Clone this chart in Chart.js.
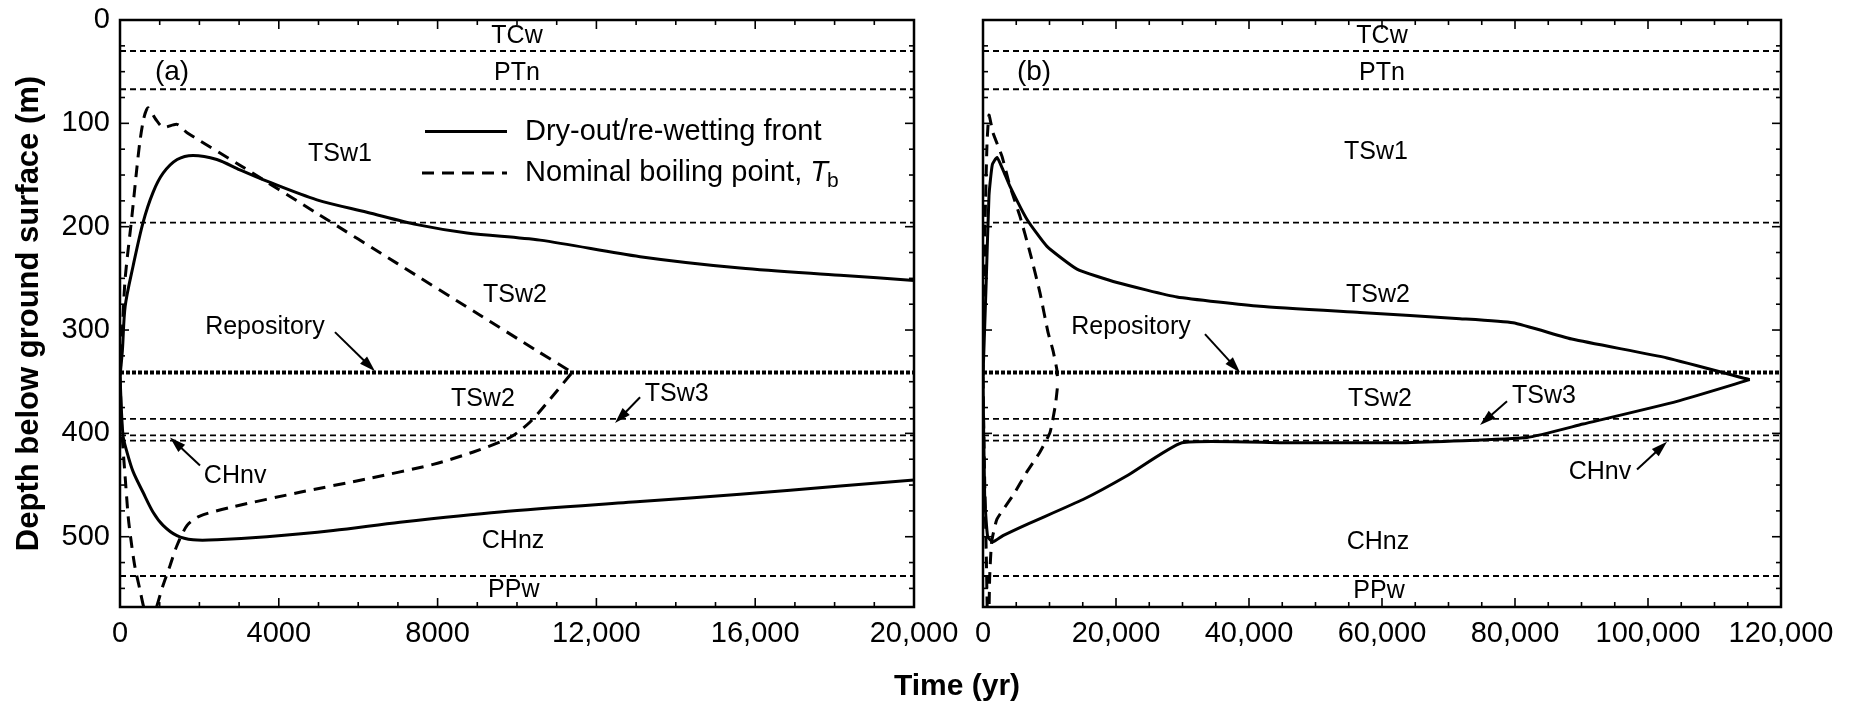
<!DOCTYPE html>
<html>
<head>
<meta charset="utf-8">
<script src="https://cdn.jsdelivr.net/npm/chart.js@4.4.1/dist/chart.umd.min.js"></script>
<style>
  html, body { margin: 0; padding: 0; background: #fff; }
  #wrap { position: relative; width: 1856px; height: 705px; }
  #wrap canvas { position: absolute; top: 0; }
  #chartA { left: 0; }
  #chartB { left: 960px; }
</style>
</head>
<body>
<div id="wrap">
  <canvas id="chartA" width="1856" height="705"></canvas>
  <canvas id="chartB" width="896" height="705"></canvas>
</div>
<script>
const FONT = '"Liberation Sans", Arial, Helvetica, sans-serif';

// depth axis (both panels)
const depthTicks = [0, 100, 200, 300, 400, 500];
const depthTickLabels = ['0', '100', '200', '300', '400', '500'];
const depthMax = 568;

// time axes
const timeTicksA = [0, 4000, 8000, 12000, 16000, 20000];
const timeTickLabelsA = ['0', '4000', '8000', '12,000', '16,000', '20,000'];
const timeTicksB = [0, 20000, 40000, 60000, 80000, 100000, 120000];
const timeTickLabelsB = ['0', '20,000', '40,000', '60,000', '80,000', '100,000', '120,000'];

// unit contacts (m below surface)
const contactDepths = [30, 67, 196, 386, 402, 407, 538];
const repositoryDepth = 341;

const legendLabels = ['Dry-out/re-wetting front', 'Nominal boiling point, '];

// (a) dry-out / re-wetting front
const frontUpTimeA = [0, 60, 130, 330, 580, 830, 1090, 1440, 1840, 2440, 3020, 3700, 4960, 6220, 7480, 8740, 10580, 13100, 15620, 18140, 20000];
const frontUpDepthA = [345, 320, 277, 238, 196, 167, 148, 135, 131, 135, 145, 156, 174, 186, 198, 206, 213, 229, 240, 247, 252];
const frontLowTimeA = [0, 75, 175, 330, 580, 830, 1085, 1435, 1840, 2440, 3700, 5370, 7050, 9570, 13100, 15620, 18140, 20000];
const frontLowDepthA = [345, 402, 418, 437, 457, 476, 489, 499, 503, 503, 500, 494, 486, 476, 466, 459, 451, 445];

// (a) nominal boiling point
const boilUpTimeA = [0, 60, 130, 300, 420, 500, 600, 705, 900, 1085, 1435, 1690, 3000, 5000, 7000, 9000, 10500, 11390];
const boilUpDepthA = [345, 300, 250, 190, 145, 118, 95, 85, 96, 104, 101, 109, 140, 188, 236, 284, 320, 341];
const boilLowTimeA = [0, 50, 126, 210, 300, 380, 500, 590, 760, 930, 1085, 1260, 1430, 1690, 2010, 2850, 4530, 6220, 7890, 8900, 9820, 10330, 10830, 11390];
const boilLowDepthA = [345, 400, 440, 482, 510, 530, 551, 567, 590, 567, 547, 528, 509, 489, 480, 471, 457, 444, 430, 418, 404, 389, 367, 341];

// (b) dry-out / re-wetting front
const frontUpTimeB = [0, 500, 900, 1400, 2100, 3000, 4060, 6620, 9620, 14130, 20150, 29170, 41650, 56690, 71730, 79700, 88720, 102860, 115300];
const frontUpDepthB = [345, 250, 170, 140, 133, 145, 161, 193, 219, 241, 254, 268, 277, 283, 289, 293, 309, 327, 348];
const frontLowTimeB = [0, 250, 700, 1500, 3000, 6620, 15040, 21650, 29920, 45000, 62700, 81800, 90230, 104360, 115300];
const frontLowDepthB = [345, 460, 500, 505, 499, 488, 464, 441, 409, 409, 409, 404, 391, 369, 348];

// (b) nominal boiling point
const boilUpTimeB = [0, 300, 600, 900, 1500, 2860, 4060, 5560, 7070, 8570, 9770, 10530, 11100, 11250];
const boilUpDepthB = [345, 200, 120, 92, 109, 132, 161, 190, 225, 264, 302, 320, 338, 352];
const boilLowTimeB = [0, 200, 500, 700, 850, 1000, 1300, 2100, 4510, 6620, 8570, 10080, 10900, 11250];
const boilLowDepthB = [345, 430, 520, 590, 590, 540, 505, 483, 460, 437, 418, 399, 372, 352];

const pts = (ts, ds) => ts.map((t, i) => ({ x: t, y: ds[i] }));

function curve(ts, ds, dashed, tension) {
  return {
    data: pts(ts, ds),
    showLine: true,
    borderColor: '#000',
    borderWidth: 3,
    borderDash: dashed ? [12, 8] : [],
    pointRadius: 0,
    tension: tension,
    fill: false
  };
}

function contacts(tMax) {
  const sets = contactDepths.map(d => ({
    data: [{ x: 0, y: d }, { x: tMax, y: d }],
    showLine: true, borderColor: '#000', borderWidth: 1.8, borderDash: [6, 4], pointRadius: 0
  }));
  sets.push({
    data: [{ x: 0, y: repositoryDepth }, { x: tMax, y: repositoryDepth }],
    showLine: true, borderColor: '#000', borderWidth: 4, borderDash: [4, 2], pointRadius: 0
  });
  return sets;
}

function timeScale(ticks, labels) {
  return {
    type: 'linear',
    min: ticks[0],
    max: ticks[ticks.length - 1],
    afterBuildTicks: s => { s.ticks = ticks.map(v => ({ value: v })); },
    afterFit: s => { s.height = 98; s.paddingLeft = 0; s.paddingRight = 0; },
    grid: { display: false, drawTicks: false },
    border: { display: false },
    ticks: {
      color: '#000', font: { family: FONT, size: 29 }, padding: 10,
      maxRotation: 0, autoSkip: false,
      callback: v => labels[ticks.indexOf(v)]
    }
  };
}

function depthScale(withLabels, width) {
  return {
    type: 'linear',
    reverse: true,
    min: 0,
    max: depthMax,
    afterBuildTicks: s => { s.ticks = depthTicks.map(v => ({ value: v })); },
    afterFit: s => { s.width = width; s.paddingTop = 0; s.paddingBottom = 0; },
    grid: { display: false, drawTicks: false },
    border: { display: false },
    ticks: {
      display: withLabels,
      color: '#000', font: { family: FONT, size: 29 }, padding: 10,
      callback: v => depthTickLabels[depthTicks.indexOf(v)]
    },
    title: {
      display: withLabels,
      text: 'Depth below ground surface (m)',
      color: '#000',
      font: { family: FONT, size: 31, weight: 'bold' },
      padding: { top: 11, bottom: 0 }
    }
  };
}

// frame with inward ticks on all four sides
const framePlugin = {
  id: 'frame',
  afterDatasetsDraw(chart, args, opts) {
    const { ctx, chartArea: a, scales: { x, y } } = chart;
    ctx.save();
    ctx.strokeStyle = '#000';
    ctx.lineWidth = 1.6;
    const seg = (x0, y0, x1, y1) => { ctx.beginPath(); ctx.moveTo(x0, y0); ctx.lineTo(x1, y1); ctx.stroke(); };
    for (let v = x.min; v <= x.max + 0.001; v += opts.xMinor) {
      const px = x.getPixelForValue(v);
      const len = v % opts.xMajor === 0 ? 9 : 5;
      seg(px, a.bottom, px, a.bottom - len);
      seg(px, a.top, px, a.top + len);
    }
    for (let v = 0; v <= y.max + 0.001; v += opts.yMinor) {
      const py = y.getPixelForValue(v);
      const len = v % opts.yMajor === 0 ? 9 : 5;
      seg(a.left, py, a.left + len, py);
      seg(a.right, py, a.right - len, py);
    }
    ctx.lineWidth = 2.5;
    ctx.strokeRect(a.left, a.top, a.right - a.left, a.bottom - a.top);
    ctx.restore();
  }
};

function drawArrow(ctx, x0, y0, x1, y1) {
  const ang = Math.atan2(y1 - y0, x1 - x0);
  const head = 16, half = 5;
  const bx = x1 - head * Math.cos(ang), by = y1 - head * Math.sin(ang);
  ctx.lineWidth = 2;
  ctx.beginPath(); ctx.moveTo(x0, y0); ctx.lineTo(bx + 2 * Math.cos(ang), by + 2 * Math.sin(ang)); ctx.stroke();
  ctx.beginPath();
  ctx.moveTo(x1, y1);
  ctx.lineTo(bx + half * Math.sin(ang), by - half * Math.cos(ang));
  ctx.lineTo(bx - half * Math.sin(ang), by + half * Math.cos(ang));
  ctx.closePath();
  ctx.fill();
}

// unit names, arrows, legend, shared axis title
const notesPlugin = {
  id: 'notes',
  afterDatasetsDraw(chart, args, opts) {
    const { ctx, scales: { x, y } } = chart;
    ctx.save();
    ctx.fillStyle = '#000';
    ctx.strokeStyle = '#000';
    ctx.textBaseline = 'middle';
    (opts.labels || []).forEach(l => {
      ctx.font = (l.size || 25) + 'px ' + FONT;
      ctx.textAlign = l.align || 'center';
      ctx.fillText(l.text, x.getPixelForValue(l.t), y.getPixelForValue(l.d));
    });
    (opts.arrows || []).forEach(a => {
      drawArrow(ctx, x.getPixelForValue(a.t0), y.getPixelForValue(a.d0),
        x.getPixelForValue(a.t1), y.getPixelForValue(a.d1));
    });
    const lg = opts.legend;
    if (lg) {
      const tx = x.getPixelForValue(lg.textT);
      lg.rows.forEach((r, i) => {
        const py = y.getPixelForValue(r.d);
        ctx.lineWidth = 3;
        ctx.setLineDash(r.dashed ? [12, 8] : []);
        ctx.beginPath();
        ctx.moveTo(x.getPixelForValue(r.t0), py);
        ctx.lineTo(x.getPixelForValue(r.t1), py);
        ctx.stroke();
        ctx.setLineDash([]);
        ctx.font = '29px ' + FONT;
        ctx.textAlign = 'left';
        ctx.fillText(legendLabels[i], tx, py);
        if (r.dashed) {
          let w = tx + ctx.measureText(legendLabels[i]).width;
          ctx.font = 'italic 29px ' + FONT;
          ctx.fillText('T', w, py);
          w += ctx.measureText('T').width - 1;
          ctx.font = '21px ' + FONT;
          ctx.fillText('b', w, py + 8);
        }
      });
    }
    if (opts.axisTitle) {
      const t = opts.axisTitle;
      ctx.font = 'bold 30px ' + FONT;
      ctx.textAlign = 'center';
      ctx.fillText(t.text, t.x, t.y);
    }
    ctx.restore();
  }
};

Chart.defaults.color = '#000';
Chart.defaults.font.family = FONT;

new Chart(document.getElementById('chartA'), {
  type: 'scatter',
  data: {
    datasets: [
      ...contacts(timeTicksA[timeTicksA.length - 1]),
      curve(frontUpTimeA, frontUpDepthA, false, 0.3),
      curve(frontLowTimeA, frontLowDepthA, false, 0.3),
      curve(boilUpTimeA, boilUpDepthA, true, 0.25),
      curve(boilLowTimeA, boilLowDepthA, true, 0.25)
    ]
  },
  options: {
    responsive: false,
    animation: false,
    layout: { padding: { top: 20, right: 942, left: 0, bottom: 0 } },
    plugins: {
      legend: { display: false },
      tooltip: { enabled: false },
      frame: { xMinor: 1000, xMajor: 4000, yMinor: 25, yMajor: 100 },
      notes: {
        labels: [
          { text: 'TCw', t: 10000, d: 16 },
          { text: 'PTn', t: 10000, d: 51 },
          { text: '(a)', t: 1310, d: 51, size: 28 },
          { text: 'TSw1', t: 5540, d: 130 },
          { text: 'TSw2', t: 9950, d: 266 },
          { text: 'Repository', t: 3650, d: 297 },
          { text: 'TSw2', t: 9140, d: 367 },
          { text: 'TSw3', t: 13220, d: 362, align: 'left' },
          { text: 'CHnv', t: 2900, d: 441 },
          { text: 'CHnz', t: 9900, d: 504 },
          { text: 'PPw', t: 9920, d: 552 }
        ],
        arrows: [
          { t0: 5415, d0: 302, t1: 6423, d1: 340 },
          { t0: 13100, d0: 365, t1: 12470, d1: 390 },
          { t0: 2015, d0: 431, t1: 1260, d1: 404 }
        ],
        legend: {
          textT: 10200,
          rows: [
            { t0: 7683, t1: 9748, d: 108, dashed: false },
            { t0: 7607, t1: 9748, d: 148, dashed: true }
          ]
        },
        axisTitle: { text: 'Time (yr)', x: 957, y: 687 }
      }
    },
    scales: {
      x: timeScale(timeTicksA, timeTickLabelsA),
      y: depthScale(true, 120)
    }
  },
  plugins: [framePlugin, notesPlugin]
});

new Chart(document.getElementById('chartB'), {
  type: 'scatter',
  data: {
    datasets: [
      ...contacts(timeTicksB[timeTicksB.length - 1]),
      curve(frontUpTimeB, frontUpDepthB, false, 0.15),
      curve(frontLowTimeB, frontLowDepthB, false, 0.15),
      curve(boilUpTimeB, boilUpDepthB, true, 0.15),
      curve(boilLowTimeB, boilLowDepthB, true, 0.15)
    ]
  },
  options: {
    responsive: false,
    animation: false,
    layout: { padding: { top: 20, right: 75, left: 0, bottom: 0 } },
    plugins: {
      legend: { display: false },
      tooltip: { enabled: false },
      frame: { xMinor: 5000, xMajor: 20000, yMinor: 25, yMajor: 100 },
      notes: {
        labels: [
          { text: 'TCw', t: 60000, d: 16 },
          { text: 'PTn', t: 60000, d: 51 },
          { text: '(b)', t: 7670, d: 51, size: 28 },
          { text: 'TSw1', t: 59100, d: 128 },
          { text: 'TSw2', t: 59400, d: 266 },
          { text: 'Repository', t: 22260, d: 297 },
          { text: 'TSw2', t: 59700, d: 367 },
          { text: 'TSw3', t: 79550, d: 364, align: 'left' },
          { text: 'CHnv', t: 92780, d: 437 },
          { text: 'CHnz', t: 59400, d: 505 },
          { text: 'PPw', t: 59550, d: 553 }
        ],
        arrows: [
          { t0: 33380, d0: 304, t1: 38650, d1: 341 },
          { t0: 78800, d0: 369, t1: 74740, d1: 392 },
          { t0: 98350, d0: 435, t1: 102860, d1: 408 }
        ]
      }
    },
    scales: {
      x: timeScale(timeTicksB, timeTickLabelsB),
      y: depthScale(false, 23)
    }
  },
  plugins: [framePlugin, notesPlugin]
});
</script>
</body>
</html>
